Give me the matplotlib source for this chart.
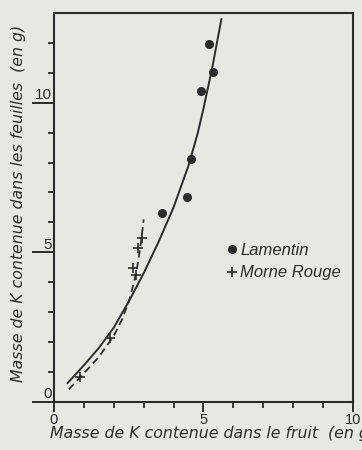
import numpy as np
import matplotlib
matplotlib.use('Agg')
import matplotlib.pyplot as plt
from matplotlib.transforms import ScaledTranslation

# Lamentin points (dots)
lam_x = [5.17, 5.33, 4.93, 4.60, 4.45, 3.63]
lam_y = [11.97, 11.03, 10.40, 8.13, 6.85, 6.30]

# Morne Rouge points (crosses)
mr_x = [0.87, 1.87, 2.63, 2.73, 2.80, 2.93]
mr_y = [0.83, 2.13, 4.47, 4.23, 5.13, 5.47]

# fitted curves
lam_fit_x = [0.45, 1.0, 1.5, 2.0, 2.5, 3.0, 3.5, 4.0, 4.5, 4.8, 5.0, 5.3, 5.6]
lam_fit_y = [0.62, 1.22, 1.80, 2.48, 3.35, 4.30, 5.35, 6.50, 7.90, 8.95, 9.80, 11.20, 12.80]
mr_fit_x = [0.5, 1.0, 1.5, 2.0, 2.3, 2.55, 2.7, 2.82, 2.92, 3.0]
mr_fit_y = [0.42, 0.95, 1.50, 2.20, 2.80, 3.50, 4.10, 4.70, 5.40, 6.10]

ink = '#2b2b2b'
bg = '#e8e8e3'
font = 'Liberation Sans'
lab_font = 'DejaVu Sans'

fig = plt.figure(figsize=(3.62, 4.5), dpi=100, facecolor=bg)
ax = fig.add_axes([0.149, 0.107, 0.826, 0.864], facecolor=bg)

ax.plot(lam_fit_x, lam_fit_y, color=ink, lw=1.4, solid_capstyle='round')
ax.plot(mr_fit_x, mr_fit_y, color=ink, lw=1.3, ls=(0, (4, 2.5)))
ax.plot(lam_x, lam_y, 'o', color=ink, ms=5.5, label='Lamentin')
ax.plot(mr_x, mr_y, '+', color=ink, ms=7, mew=1.2, label='Morne Rouge')

ax.set_xlim(0, 10)
ax.set_ylim(0, 13)

for s in ax.spines.values():
    s.set_color(ink)
    s.set_linewidth(1.5)

ax.set_xticks([0, 5, 10])
ax.set_xticks(range(11), minor=True)
ax.set_yticks([0, 5, 10])
ax.set_yticks(range(13), minor=True)
ax.set_xticklabels(['0', '5', '10'])
ax.set_yticklabels(['0', '5', '10'])
ax.tick_params(axis='x', which='major', length=7, width=1.4, color=ink,
               labelsize=10.5, labelcolor=ink, pad=1)
ax.tick_params(axis='x', which='minor', length=4, width=1.3, color=ink)
ax.tick_params(axis='y', which='major', length=16, width=1.4, color=ink,
               labelsize=11, labelcolor=ink, pad=-14.5)
ax.tick_params(axis='y', which='minor', length=4, width=1.3, color=ink)
for lab in ax.get_xticklabels() + ax.get_yticklabels():
    lab.set_fontfamily(font)
shift = ScaledTranslation(0, 6.5 / 72, fig.dpi_scale_trans)
for lab in ax.get_yticklabels():
    lab.set_transform(lab.get_transform() + shift)

ax.set_xlabel('Masse de K contenue dans le fruit  (en g)', fontsize=11.3,
              style='italic', family=lab_font, color=ink, ha='left', va='baseline')
ax.xaxis.set_label_coords(-0.013, -0.094)
ax.set_ylabel('Masse de K contenue dans les feuilles  (en g)', fontsize=11.3,
              style='italic', family=lab_font, color=ink, va='bottom')
ax.yaxis.set_label_coords(-0.093, 0.51)

leg = ax.legend(loc='upper left', bbox_to_anchor=(0.55, 0.43), frameon=False,
                handlelength=0.6, handletextpad=0.2, labelspacing=0.45,
                borderpad=0, prop={'family': font, 'style': 'italic', 'size': 12})
for t in leg.get_texts():
    t.set_color(ink)

fig.savefig('out.png', dpi=100, facecolor=bg)
